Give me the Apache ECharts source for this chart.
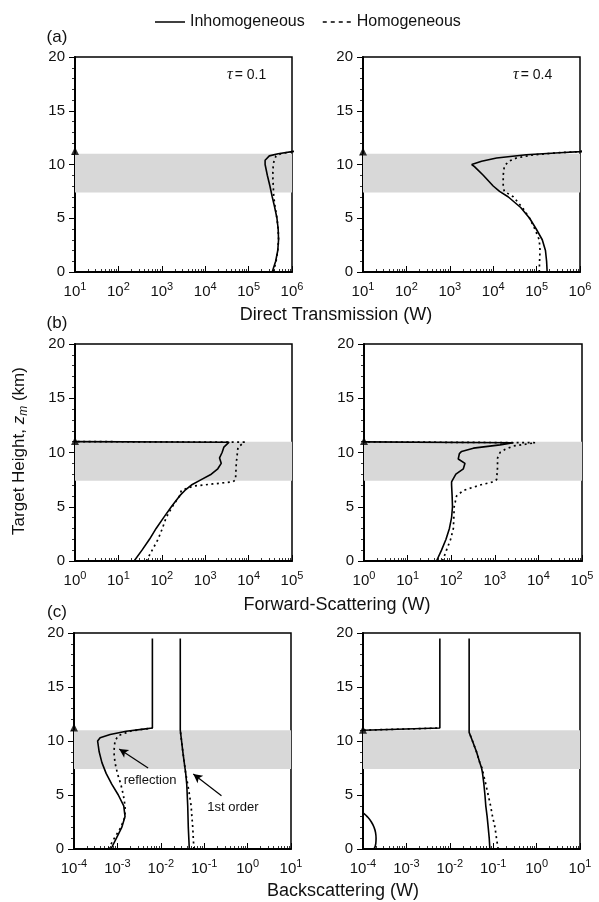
<!DOCTYPE html>
<html>
<head>
<meta charset="utf-8">
<script src="https://cdn.jsdelivr.net/npm/echarts@6/dist/echarts.min.js"></script>
<style>
html,body{margin:0;padding:0;background:#fff;}
#chart{width:599px;height:902px;}
</style>
</head>
<body>
<div id="chart"></div>
<script>
// ---------- DATA ----------
// Panel (a) Direct Transmission, tau = 0.1
const aL_h      = [0,1,2,3,4,5,6,7,8,9,10,10.4,10.8,11.0,11.2,11.35];
const aL_inh    = [3.5e5,4.2e5,4.7e5,4.9e5,4.8e5,4.5e5,4.0e5,3.5e5,3.1e5,2.7e5,2.4e5,2.4e5,3.0e5,4.8e5,1.0e6,2.0e6];
const aL_hom    = [3.7e5,4.3e5,4.7e5,4.9e5,4.8e5,4.5e5,4.1e5,3.8e5,3.7e5,3.6e5,3.7e5,3.9e5,4.3e5,5.5e5,1.0e6,2.0e6];
// Panel (a) Direct Transmission, tau = 0.4
const aR_h      = [0,1,2,3,4,5,6,7,7.5,8,9,9.8,10.0,10.3,10.6,10.9,11.1,11.2,11.35];
const aR_inh    = [1.75e5,1.7e5,1.6e5,1.35e5,9.8e4,6.9e4,4.3e4,2.2e4,1.4e4,1.0e4,5.9e3,3.7e3,3.2e3,5.4e3,1.2e4,5.8e4,3.4e5,1.0e6,2.0e6];
const aR_hom    = [1.15e5,1.17e5,1.2e5,1.15e5,9.1e4,6.9e4,4.7e4,2.9e4,1.8e4,1.7e4,1.7e4,1.8e4,1.95e4,2.3e4,3.4e4,8.3e4,3.4e5,1.0e6,2.0e6];
// Panel (b) Forward-Scattering, tau = 0.1
const bL_h_inh  = [0,1,2,3,4,5,6,6.5,7,7.5,8,8.5,9,9.5,10,10.5,10.95,11.02];
const bL_inh    = [23,35,52,74,110,166,257,340,480,810,1380,1950,2340,2140,2450,2700,3550,0.1];
const bL_h_hom  = [0,1,2,3,4,5,6,6.5,6.9,7.1,7.3,7.5,9,10.5,10.95,11.02];
const bL_hom    = [44,60,82,103,126,174,257,282,525,1500,4400,5000,5200,5700,8100,0.1];
// Panel (b) Forward-Scattering, tau = 0.4
const bR_h_inh  = [0,1,2,3,4,5,6,7,7.3,7.6,8,8.5,9,9.4,9.9,10.1,10.4,10.7,10.9,11.0];
const bR_inh    = [46,60,76,91,102,107,105,102,102,112,128,190,207,145,154,173,323,1320,2680,0.1];
const bR_h_hom  = [0,1,2,3,4,5,6,6.5,7.0,7.3,7.5,8.5,9.5,10.0,10.3,10.6,10.9,11.0];
const bR_hom    = [63,78,97,112,115,117,133,190,457,930,1100,1150,1160,1320,1740,2680,8500,0.1];
// Panel (c) Backscattering, tau = 0.1
const cL_h_ref      = [0,1,2,3,4,5,6,7,8,9,10,10.3,10.6,10.9,11.1,11.2,19.5];
const cL_ref_inh    = [7.1e-4,9.5e-4,1.26e-3,1.5e-3,1.4e-3,1.05e-3,7.4e-4,5.5e-4,4.4e-4,3.8e-4,3.5e-4,4.0e-4,6.8e-4,1.6e-3,4.0e-3,6.4e-3,6.4e-3];
const cL_h_refh     = [0,1,2,3,4,5,6,7,8,9,10,10.5,10.9,11.1,11.2];
const cL_ref_hom    = [6.2e-4,8.5e-4,1.2e-3,1.5e-3,1.5e-3,1.37e-3,1.2e-3,1.0e-3,8.8e-4,8.3e-4,8.8e-4,1.05e-3,1.95e-3,4.0e-3,6.4e-3];
const cL_h_1st      = [0,2,4,6,7,8,9,10,11,19.5];
const cL_1st_inh    = [0.0454,0.043,0.0417,0.0396,0.0375,0.0347,0.0322,0.0301,0.0281,0.0281];
const cL_h_1sth     = [0,1,2,3,4,5,6,7,8,9,10,11];
const cL_1st_hom    = [0.058,0.056,0.0545,0.052,0.050,0.0458,0.0417,0.0375,0.0347,0.0322,0.0301,0.0281];
// Panel (c) Backscattering, tau = 0.4 (reflection curve lies mostly below 1e-4)
const cR_h_refA     = [0,0.5,1.0,1.5,2.0,2.5,3.0,3.3,3.8];
const cR_ref_inhA   = [1.8e-4,1.97e-4,2.0e-4,1.95e-4,1.8e-4,1.56e-4,1.25e-4,1.03e-4,7e-5];
const cR_h_refB     = [10.0,10.9,11.0,11.2,19.5];
const cR_ref_inhB   = [2e-5,5e-5,1.0e-4,5.9e-3,5.9e-3];
const cR_h_refh     = [10.0,10.9,11.0,11.2];
const cR_ref_hom    = [3e-5,5e-5,1.0e-4,5.9e-3];
const cR_h_1st      = [0,1,2,3,4,5,6,7,7.5,8,9,10,10.8,19.5];
const cR_1st_inh    = [0.0838,0.081,0.0767,0.0725,0.0675,0.0645,0.061,0.0568,0.054,0.049,0.0412,0.0333,0.0279,0.0279];
const cR_h_1sth     = [0,1,2,3,4,5,6,7,7.5,8,9,10,10.8];
const cR_1st_hom    = [0.130,0.119,0.110,0.0966,0.087,0.0767,0.0675,0.059,0.055,0.049,0.0412,0.0333,0.0279];

// axis ranges & labels
const xMinA = 10,   xMaxA = 1e6;
const xMinB = 1,    xMaxB = 1e5;
const xMinC = 1e-4, xMaxC = 10;
const bandLow = 7.4, bandHigh = 11.0;
const markerHeights = [11.25, 11.2, 11.05, 11.05, 11.25, 11.05];
const tauLabels = ['0.1','0.4'];
const seriesNames = ['Inhomogeneous','Homogeneous'];

// ---------- BUILD ----------
function zip(xs, ys){ return xs.map((x,i)=>[x, ys[i]]); }
const FONT = "'Liberation Sans', Arial, Helvetica, sans-serif";

const grids = [
  {left:75, top:57, width:217, height:215},
  {left:363, top:57, width:217, height:215},
  {left:75, top:344, width:217, height:217},
  {left:364, top:344, width:218, height:217},
  {left:74, top:633, width:217, height:216},
  {left:363, top:633, width:217, height:216}
];
const xRanges = [[xMinA,xMaxA],[xMinA,xMaxA],[xMinB,xMaxB],[xMinB,xMaxB],[xMinC,xMaxC],[xMinC,xMaxC]];

const xAxes = xRanges.map((r,i)=>({
  type:'log', logBase:10, gridIndex:i, min:r[0], max:r[1],
  axisLine:{lineStyle:{color:'#000', width:2}},
  axisTick:{show:true, inside:true, length:6, lineStyle:{color:'#000', width:1}},
  minorTick:{show:true, splitNumber:9, length:3, lineStyle:{color:'#000', width:0.8}},
  splitLine:{show:false},
  axisLabel:{
    color:'#111', fontSize:15, fontFamily:FONT, margin:9, lineHeight:21,
    formatter:function(v){ const e=Math.round(Math.log10(v)); return '10{s|'+(e<0?'-'+(-e):e)+'}'; },
    rich:{s:{fontSize:11, lineHeight:11, verticalAlign:'top', fontFamily:FONT, color:'#111'}}
  }
}));
const yAxes = grids.map((g,i)=>({
  type:'value', gridIndex:i, min:0, max:20, interval:5,
  axisLine:{show:true, lineStyle:{color:'#000', width:2}},
  axisTick:{show:true, inside:false, length:6, lineStyle:{color:'#000', width:1}},
  minorTick:{show:true, splitNumber:5, length:3, lineStyle:{color:'#000', width:0.8}},
  splitLine:{show:false},
  axisLabel:{color:'#111', fontSize:15, fontFamily:FONT, margin:10}
}));

const solid = {color:'#000', width:1.6, type:'solid'};
const dotted = {color:'#000', width:1.7, type:[2,3.5]};

function line(grid, name, xs, ys, style, extra){
  return Object.assign({
    type:'line', name:name, xAxisIndex:grid, yAxisIndex:grid,
    data: zip(xs, ys), symbol:'none', showSymbol:false, clip:true,
    lineStyle:style, itemStyle:{color:'#000'}, animation:false, z:5
  }, extra||{});
}
function band(){
  return {silent:true, itemStyle:{color:'#d8d8d8'}, data:[[{yAxis:bandLow},{yAxis:bandHigh}]]};
}

const series = [];
// (a)
series.push(line(0, seriesNames[0], aL_inh, aL_h, solid, {markArea:band()}));
series.push(line(0, seriesNames[1], aL_hom, aL_h, dotted));
series.push(line(1, seriesNames[0], aR_inh, aR_h, solid, {markArea:band()}));
series.push(line(1, seriesNames[1], aR_hom, aR_h, dotted));
// (b)
series.push(line(2, seriesNames[0], bL_inh, bL_h_inh, solid, {markArea:band()}));
series.push(line(2, seriesNames[1], bL_hom, bL_h_hom, dotted));
series.push(line(3, seriesNames[0], bR_inh, bR_h_inh, solid, {markArea:band()}));
series.push(line(3, seriesNames[1], bR_hom, bR_h_hom, dotted));
// (c)
series.push(line(4, seriesNames[0], cL_ref_inh, cL_h_ref, solid, {
  markArea:band(),
  markLine:{silent:true, symbol:['none','arrow'], symbolSize:[7,9], label:{show:false},
    lineStyle:{color:'#000', width:1.2, type:'solid'},
    data:[
      [{coord:[5.1e-3,7.5]},{coord:[1.1e-3,9.26]}],
      [{coord:[0.25,4.93]},{coord:[0.056,6.94]}]
    ]}
}));
series.push(line(4, seriesNames[1], cL_ref_hom, cL_h_refh, dotted));
series.push(line(4, seriesNames[0], cL_1st_inh, cL_h_1st, solid));
series.push(line(4, seriesNames[1], cL_1st_hom, cL_h_1sth, dotted));
series.push(line(5, seriesNames[0], cR_ref_inhA, cR_h_refA, solid, {markArea:band(), smooth:0.5}));
series.push(line(5, seriesNames[0], cR_ref_inhB, cR_h_refB, solid));
series.push(line(5, seriesNames[1], cR_ref_hom, cR_h_refh, dotted));
series.push(line(5, seriesNames[0], cR_1st_inh, cR_h_1st, solid));
series.push(line(5, seriesNames[1], cR_1st_hom, cR_h_1sth, dotted));
// triangle markers on left axes
grids.forEach((g,i)=>{
  series.push({type:'scatter', xAxisIndex:i, yAxisIndex:i, data:[[xRanges[i][0], markerHeights[i]]],
    symbol:'triangle', symbolSize:[8,8], itemStyle:{color:'#000'}, clip:false, silent:true, z:10, animation:false});
});

const graphic = [];
function txt(x,y,text,size){
  graphic.push({type:'text', x:x, y:y, style:{text:text, fontSize:size, fontFamily:FONT, fill:'#111', align:'center', verticalAlign:'middle'}});
}
txt(57,37,'(a)',17);
txt(57,323,'(b)',17);
txt(57,612,'(c)',17);
txt(336,315,'Direct Transmission (W)',18);
txt(337,605,'Forward-Scattering (W)',18);
txt(343,891,'Backscattering (W)',18);
txt(150,780,'reflection',13);
txt(233,807,'1st order',13);
[227,513].forEach((x,i)=>{
  graphic.push({type:'text', x:x, y:75, style:{text:'{t|τ}{n|= '+tauLabels[i]+'}', verticalAlign:'middle', align:'left',
    rich:{t:{fontFamily:"'Liberation Serif','DejaVu Serif',serif", fontStyle:'italic', fontSize:16, fill:'#111'},
          n:{fontFamily:FONT, fontSize:14, fill:'#111', padding:[0,0,0,2]}}}});
});
graphic.push({type:'text', x:19, y:451, rotation:Math.PI/2, style:{
  text:'Target Height, {i|z}{sub|m} (km)', fontSize:17, fontFamily:FONT, fill:'#111', align:'center', verticalAlign:'middle', lineHeight:22,
  rich:{i:{fontSize:17, fontStyle:'italic', fontFamily:FONT, fill:'#111', lineHeight:22},
        sub:{fontSize:12, fontStyle:'italic', fontFamily:FONT, fill:'#111', lineHeight:12, verticalAlign:'bottom'}}}});

const solidIcon  = 'path://M0,0H30V1.5H0Z';
const dottedIcon = 'path://M0,0H4V1.5H0Z M8,0H12V1.5H8Z M16,0H20V1.5H16Z M24,0H28V1.5H24Z';

const option = {
  backgroundColor:'#fff',
  animation:false,
  legend:{
    data:[{name:seriesNames[0], icon:solidIcon}, {name:seriesNames[1], icon:dottedIcon}],
    left:150, top:9, itemWidth:30, itemHeight:1.5, itemGap:18,
    itemStyle:{color:'#000', borderWidth:0},
    textStyle:{fontSize:16, fontFamily:FONT, color:'#111'}, selectedMode:false},
  grid: grids.map(g=>Object.assign({show:true, borderColor:'#000', borderWidth:1.5, backgroundColor:'transparent'}, g)),
  xAxis: xAxes,
  yAxis: yAxes,
  series: series,
  graphic: graphic
};
const chart = echarts.init(document.getElementById('chart'), null, {renderer:'canvas'});
chart.setOption(option);
</script>
</body>
</html>
